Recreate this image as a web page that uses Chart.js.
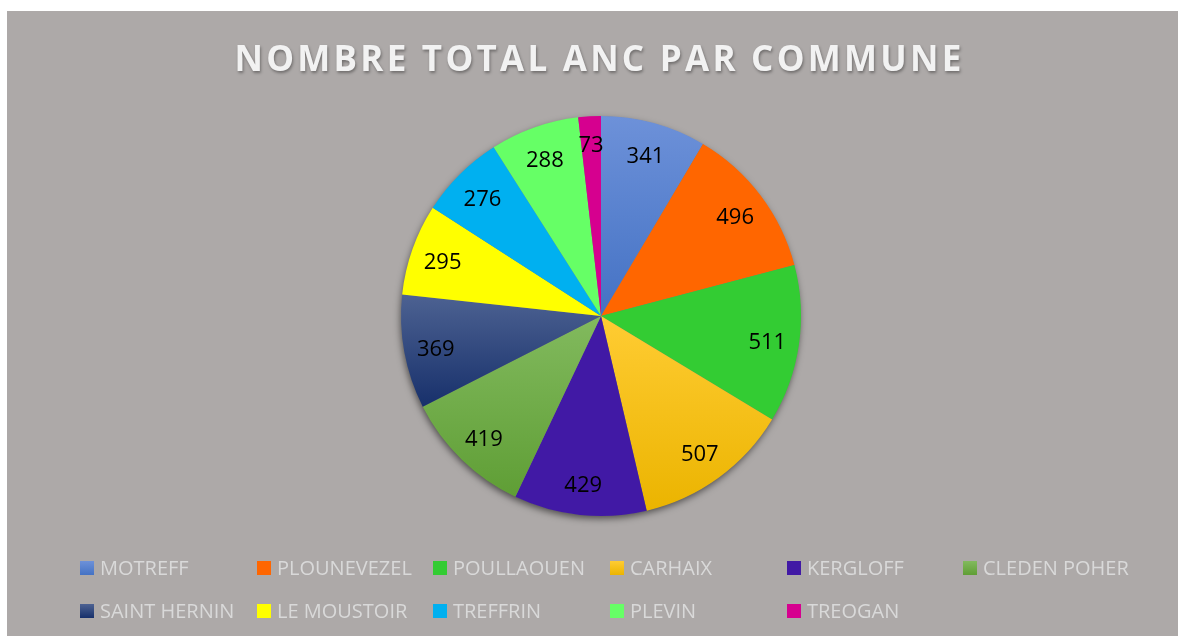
<!DOCTYPE html>
<html>
<head>
<meta charset="utf-8">
<script src="https://cdn.jsdelivr.net/npm/chart.js@4"></script>
<style>
  body { margin: 0; background: #ffffff; width: 1181px; height: 639px; overflow: hidden; }
  #box { position: absolute; left: 7px; top: 11px; width: 1171px; height: 625px; background: #ada9a8; }
  #title { position: absolute; left: 7px; top: 23px; width: 100%; text-align: center;
    font-family: "Open Sans", sans-serif; font-weight: bold; font-size: 35px; letter-spacing: 3.25px;
    color: #f2f2f2; text-shadow: 1px 2px 3px rgba(0,0,0,0.35); }
  #chartwrap { position: absolute; left: 0; top: 0; width: 1171px; height: 625px; }
  #legend { position: absolute; left: 0; top: 0; }
  .item { position: absolute; font-family: "Open Sans", sans-serif; font-size: 20px; color: #d9d9d9; white-space: nowrap; line-height: 24px; }
  .item span.sw { position: absolute; left: 0; top: 5px; width: 14px; height: 14px; }
  .item span.tx { position: absolute; left: 20px; top: 0; }
</style>
</head>
<body>
<div id="box">
  <div id="chartwrap"><canvas id="anc" width="1171" height="625"></canvas></div>
  <div id="title">NOMBRE TOTAL ANC PAR COMMUNE</div>
  <div id="legend"></div>
</div>
<script>
const communes = ['MOTREFF', 'PLOUNEVEZEL', 'POULLAOUEN', 'CARHAIX', 'KERGLOFF', 'CLEDEN POHER',
  'SAINT HERNIN', 'LE MOUSTOIR', 'TREFFRIN', 'PLEVIN', 'TREOGAN'];
const nombreAnc = [341, 496, 511, 507, 429, 419, 369, 295, 276, 288, 73];
// top and bottom colour of each slice (vertical gradient inside the slice)
const lightColors = ['#6d91d9', '#ff6600', '#33cc33', '#ffcc33', '#4119a5', '#82ba5e', '#4d6292', '#ffff00', '#00b0f0', '#66ff66', '#d6008f'];
const darkColors  = ['#4472c4', '#ff6600', '#33cc33', '#ebb400', '#4119a5', '#5f9e35', '#17306b', '#ffff00', '#00b0f0', '#66ff66', '#d6008f'];

// legend built from the same arrays
const legend = document.getElementById('legend');
const colX = [73, 250, 426, 603, 780, 956];
const rowY = [545, 588];
communes.forEach(function (c, i) {
  const d = document.createElement('div');
  d.className = 'item';
  d.style.left = colX[i % 6] + 'px';
  d.style.top = rowY[Math.floor(i / 6)] + 'px';
  d.innerHTML = '<span class="sw" style="background:linear-gradient(' + lightColors[i] + ',' + darkColors[i] + ')"></span><span class="tx">' + c + '</span>';
  legend.appendChild(d);
});

// vertical extent of slice i, from the data and the chart area
function sliceRange(area, i) {
  const total = nombreAnc.reduce((a, b) => a + b, 0);
  let before = 0;
  for (let k = 0; k < i; k++) before += nombreAnc[k];
  const a0 = -Math.PI / 2 + before / total * Math.PI * 2;
  const a1 = a0 + nombreAnc[i] / total * Math.PI * 2;
  const cy = (area.top + area.bottom) / 2;
  const r = Math.min(area.right - area.left, area.bottom - area.top) / 2;
  const ys = [cy, cy + Math.sin(a0) * r, cy + Math.sin(a1) * r];
  [-Math.PI / 2, Math.PI / 2, Math.PI * 1.5].forEach(function (t) {
    if (t >= a0 && t <= a1) ys.push(cy + Math.sin(t) * r);
  });
  return [Math.min.apply(null, ys), Math.max.apply(null, ys)];
}

const pieShadow = {
  id: 'pieShadow',
  beforeDatasetsDraw(chart) {
    const arc = chart.getDatasetMeta(0).data[0];
    if (!arc) return;
    const ctx = chart.ctx;
    ctx.save();
    ctx.shadowColor = 'rgba(0,0,0,0.55)';
    ctx.shadowBlur = 7;
    ctx.shadowOffsetX = -1;
    ctx.shadowOffsetY = 3;
    ctx.fillStyle = '#777';
    ctx.beginPath();
    ctx.arc(arc.x, arc.y, arc.outerRadius - 0.5, 0, Math.PI * 2);
    ctx.fill();
    ctx.restore();
  }
};

const valueLabels = {
  id: 'valueLabels',
  afterDatasetsDraw(chart) {
    const ctx = chart.ctx;
    const meta = chart.getDatasetMeta(0);
    ctx.save();
    ctx.font = '22px "Open Sans", sans-serif';
    ctx.fillStyle = '#000';
    ctx.textAlign = 'center';
    ctx.textBaseline = 'middle';
    meta.data.forEach(function (arc, i) {
      const mid = (arc.startAngle + arc.endAngle) / 2;
      let r = arc.outerRadius * 0.84;
      if (nombreAnc[i] < 100) r = arc.outerRadius * 0.87;
      ctx.fillText(nombreAnc[i], arc.x + Math.cos(mid) * r, arc.y + Math.sin(mid) * r + 3);
    });
    ctx.restore();
  }
};

new Chart(document.getElementById('anc'), {
  type: 'pie',
  data: {
    labels: communes,
    datasets: [{
      data: nombreAnc,
      backgroundColor: function (context) {
        const chart = context.chart;
        const area = chart.chartArea;
        const i = context.dataIndex;
        if (!area) return lightColors[i];
        const yr = sliceRange(area, i);
        const g = chart.ctx.createLinearGradient(0, yr[0], 0, yr[1]);
        g.addColorStop(0, lightColors[i]);
        g.addColorStop(1, darkColors[i]);
        return g;
      },
      borderWidth: 0,
      hoverOffset: 0,
      offset: 0
    }]
  },
  options: {
    responsive: false,
    animation: false,
    events: [],
    layout: { padding: { left: 394, right: 377, top: 105, bottom: 120 } },
    plugins: {
      legend: { display: false },
      title: { display: false },
      tooltip: { enabled: false }
    }
  },
  plugins: [pieShadow, valueLabels]
});
</script>
</body>
</html>
